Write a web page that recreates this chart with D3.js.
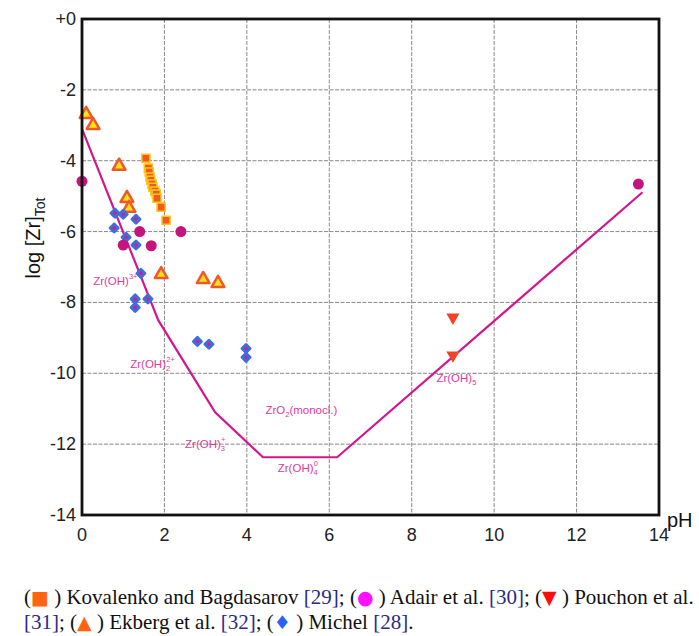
<!DOCTYPE html>
<html>
<head>
<meta charset="utf-8">
<script src="https://d3js.org/d3.v7.min.js"></script>
<style>
    body { margin: 0; background: #fff; }
</style>
</head>
<body>
<div id="main"></div>
<script>
// data: [pH, log [Zr]Tot]
const kovalenko = [[1.55, -3.93], [1.61, -4.21], [1.63, -4.32], [1.65, -4.46], [1.67, -4.55], [1.70, -4.66],
    [1.72, -4.75], [1.77, -4.86], [1.80, -4.94], [1.82, -5.06], [1.92, -5.31], [2.04, -5.68]];
const adair = [[0, -4.58], [1.0, -6.38], [1.4, -6.0], [1.68, -6.4], [2.4, -6.0], [13.5, -4.66]];
const pouchon = [[9.0, -8.42], [9.0, -9.49]];
const ekberg = [[0.1, -2.66], [0.27, -2.97], [0.9, -4.12], [1.09, -5.03], [1.14, -5.31],
    [1.92, -7.18], [2.94, -7.32], [3.3, -7.43]];
const michel = [[0.8, -5.48], [1.0, -5.51], [1.31, -5.65], [0.78, -5.9], [1.07, -6.16], [1.31, -6.38],
    [1.43, -7.18], [1.29, -7.9], [1.29, -8.14], [1.6, -7.9], [2.8, -9.1], [3.08, -9.18], [3.98, -9.3], [3.98, -9.55]];

// solubility line of ZrO2 (monocl.)
const solubility = [[0, -3.1], [1.85, -8.5], [3.23, -11.1], [4.39, -12.37], [6.19, -12.37], [13.6, -4.89]];

// species labels: [base, sub, sup, pH, log]
const species = [
    ["Zr(OH)", "", "3+", 0.27, -7.5],
    ["Zr(OH)", "2", "2+", 1.17, -9.85],
    ["ZrO", "2", "", 4.45, -11.15],
    ["Zr(OH)", "3", "+", 2.5, -12.1],
    ["Zr(OH)", "4", "0", 4.75, -12.8],
    ["Zr(OH)", "5", "−", 8.6, -10.25],
];
const speciesTail = ["", "", "(monocl.)", "", "", ""];

const xTicks = [0, 2, 4, 6, 8, 10, 12, 14];
const yTicks = [0, -2, -4, -6, -8, -10, -12, -14];

const ctx = {
    svg_w: 699,
    svg_h: 636,
    left: 82,
    right: 659,
    top: 19,
    bottom: 515,
    line_col: "#d4168c",
    label_col: "#dd3a9e",
};

function createViz() {
    let svg = d3.select("#main").append("svg")
        .attr("width", ctx.svg_w)
        .attr("height", ctx.svg_h)
        .style("font-family", "'Liberation Sans', Arial, sans-serif");

    let x = d3.scaleLinear().domain([0, 14]).range([ctx.left, ctx.right]);
    let y = d3.scaleLinear().domain([0, -14]).range([ctx.top, ctx.bottom]);

    /* grid */
    let grid = svg.append("g").attr("id", "grid")
        .style("stroke", "#8a8a8a")
        .style("stroke-width", 1)
        .style("stroke-dasharray", "4,1.5");
    grid.selectAll("line.v")
        .data(xTicks.slice(1, -1))
        .enter().append("line")
        .attr("class", "v")
        .attr("x1", d => x(d)).attr("x2", d => x(d))
        .attr("y1", ctx.top).attr("y2", ctx.bottom);
    grid.selectAll("line.h")
        .data(yTicks.slice(1, -1))
        .enter().append("line")
        .attr("class", "h")
        .attr("y1", d => y(d)).attr("y2", d => y(d))
        .attr("x1", ctx.left).attr("x2", ctx.right);

    /* tick labels */
    svg.append("g").selectAll("text")
        .data(yTicks)
        .enter().append("text")
        .attr("x", ctx.left - 6)
        .attr("y", d => y(d) + 6)
        .attr("text-anchor", "end")
        .style("font-size", "18px")
        .style("fill", "#222")
        .text(d => d == 0 ? "+0" : d);
    svg.append("g").selectAll("text")
        .data(xTicks)
        .enter().append("text")
        .attr("x", d => x(d))
        .attr("y", ctx.bottom + 26)
        .attr("text-anchor", "middle")
        .style("font-size", "18px")
        .style("fill", "#222")
        .text(d => d);

    /* axis titles */
    let yt = svg.append("text")
        .attr("transform", "translate(40,238) rotate(-90)")
        .attr("text-anchor", "middle")
        .style("font-size", "20px")
        .style("fill", "#111");
    yt.append("tspan").text("log [Zr]");
    yt.append("tspan").attr("dy", 5).style("font-size", "14px").text("Tot");

    svg.append("text")
        .attr("x", 667).attr("y", ctx.bottom + 12)
        .style("font-size", "20px")
        .style("fill", "#111")
        .text("pH");

    /* solubility line */
    svg.append("path")
        .datum(solubility)
        .attr("d", d3.line().x(d => x(d[0])).y(d => y(d[1])))
        .style("fill", "none")
        .style("stroke", ctx.line_col)
        .style("stroke-width", 2.2);

    /* species labels */
    let lab = svg.append("g").attr("id", "species")
        .style("font-size", "11.5px")
        .style("fill", ctx.label_col);
    species.forEach(function (s, i) {
        let t = lab.append("text")
            .attr("x", x(s[3]))
            .attr("y", y(s[4]));
        t.append("tspan").text(s[0]);
        if (s[1] != "") {
            t.append("tspan").attr("dy", 3).style("font-size", "7.5px").text(s[1]);
        }
        if (s[2] != "") {
            let w = t.node().getComputedTextLength();
            let subLen = s[1] != "" ? 4 : 0;
            lab.append("text")
                .attr("x", x(s[3]) + w - subLen)
                .attr("y", y(s[4]) - 6)
                .style("font-size", "7.5px")
                .text(s[2]);
        }
        if (speciesTail[i] != "") {
            t.append("tspan").attr("dy", s[1] != "" ? -3 : 0).text(speciesTail[i]);
        }
    });

    /* data points */
    let pts = svg.append("g").attr("id", "points");

    pts.selectAll("path.kov")
        .data(kovalenko)
        .enter().append("path")
        .attr("class", "kov")
        .attr("transform", d => `translate(${x(d[0])},${y(d[1])})`)
        .attr("d", d3.symbol().type(d3.symbolSquare).size(66))
        .style("fill", "#f25a1c")
        .style("stroke", "#ffc61a")
        .style("stroke-width", 1.5);

    pts.selectAll("path.ekb")
        .data(ekberg)
        .enter().append("path")
        .attr("class", "ekb")
        .attr("transform", d => `translate(${x(d[0])},${y(d[1]) + 1})`)
        .attr("d", d3.symbol().type(d3.symbolTriangle).size(70))
        .style("fill", "#ffe21a")
        .style("stroke", "#f2572a")
        .style("stroke-width", 2.5)
        .style("stroke-linejoin", "round");

    pts.selectAll("path.mic")
        .data(michel)
        .enter().append("path")
        .attr("class", "mic")
        .attr("transform", d => `translate(${x(d[0])},${y(d[1])})`)
        .attr("d", d3.symbol().type(d3.symbolDiamond2).size(42))
        .style("fill", "#d81b8a")
        .style("stroke", "#3b6fe0")
        .style("stroke-width", 2.8)
        .style("stroke-linejoin", "round");

    pts.selectAll("circle.ada")
        .data(adair)
        .enter().append("circle")
        .attr("class", "ada")
        .attr("cx", d => x(d[0]))
        .attr("cy", d => y(d[1]))
        .attr("r", 5.5)
        .style("fill", "#c4157c");

    pts.selectAll("path.pou")
        .data(pouchon)
        .enter().append("path")
        .attr("class", "pou")
        .attr("transform", d => `translate(${x(d[0])},${y(d[1])}) rotate(180)`)
        .attr("d", d3.symbol().type(d3.symbolTriangle).size(75))
        .style("fill", "#f0432a");

    /* frame */
    svg.append("rect")
        .attr("x", ctx.left).attr("y", ctx.top)
        .attr("width", ctx.right - ctx.left)
        .attr("height", ctx.bottom - ctx.top)
        .style("fill", "none")
        .style("stroke", "#111")
        .style("stroke-width", 2.8);

    createCaption(svg);
}

function createCaption(svg) {
    let refCol = "#2b2b86";
    let lines = [
        [["(", "#111"], ["■", "#ff6411", true], [" ) Kovalenko and Bagdasarov ", "#111"], ["[29]", refCol], ["; (", "#111"],
         ["●", "#ff10ff", true], [" ) Adair et al. ", "#111"], ["[30]", refCol], ["; (", "#111"],
         ["▼", "#ff0d0d", true], [" ) Pouchon et al.", "#111"]],
        [["[31]", refCol], ["; (", "#111"], ["▲", "#ff6411", true], [" ) Ekberg et al. ", "#111"], ["[32]", refCol],
         ["; (", "#111"], ["♦", "#2a62ff", true], [" ) Michel ", "#111"], ["[28]", refCol], [".", "#111"]]
    ];
    let cap = svg.append("g").attr("id", "caption")
        .style("font-family", "'Liberation Serif', 'Times New Roman', serif")
        .style("font-size", "21px");
    lines.forEach(function (parts, i) {
        let t = cap.append("text")
            .attr("x", 24)
            .attr("y", 604 + i * 25)
            .attr("xml:space", "preserve");
        parts.forEach(function (p) {
            let s = t.append("tspan").style("fill", p[1]).text(p[0]);
            if (p[2]) s.style("font-family", "'DejaVu Sans', sans-serif").style("font-size", "19px");
        });
    });
}

createViz();
</script>
</body>
</html>
